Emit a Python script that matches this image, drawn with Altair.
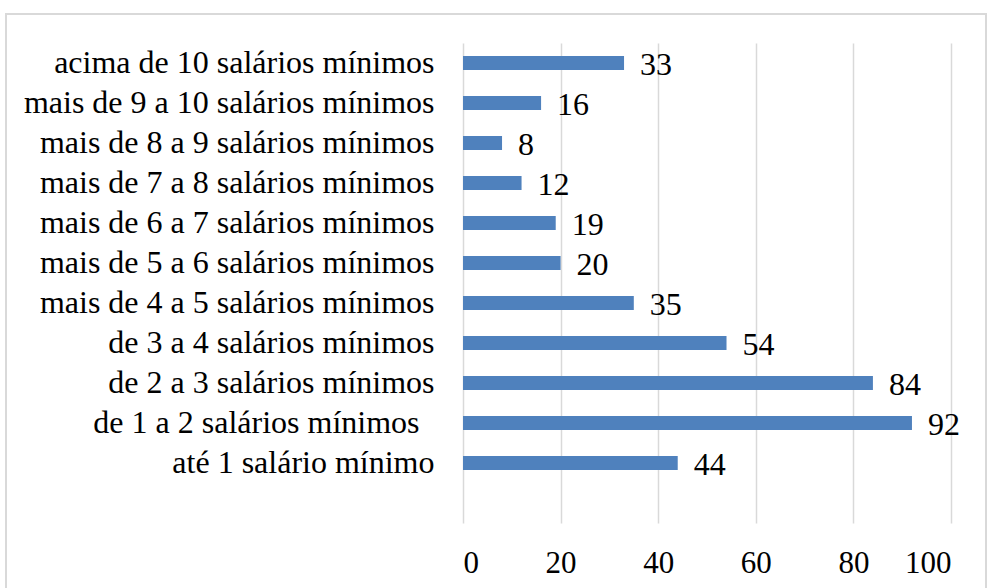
import altair as alt
import pandas as pd

categories = [
    "acima de 10 salários mínimos",
    "mais de 9 a 10 salários mínimos",
    "mais de 8 a 9 salários mínimos",
    "mais de 7 a 8 salários mínimos",
    "mais de 6 a 7 salários mínimos",
    "mais de 5 a 6 salários mínimos",
    "mais de 4 a 5 salários mínimos",
    "de 3 a 4 salários mínimos",
    "de 2 a 3 salários mínimos",
    "de 1 a 2 salários mínimos ",
    "até 1 salário mínimo",
]
values = [33, 16, 8, 12, 19, 20, 35, 54, 84, 92, 44]
x_ticks = [0, 20, 40, 60, 80, 100]

FONT = "Liberation Serif"
BLUE = "#4f81bd"
GRID = "#d9d9d9"

df = pd.DataFrame({"cat": categories, "value": values})
domain = categories + [""]

y_enc = alt.Y(
    "cat:N",
    sort=domain,
    scale=alt.Scale(domain=domain, paddingInner=0, paddingOuter=0),
    axis=alt.Axis(
        title=None, ticks=False, domain=False, labelFont=FONT, labelFontSize=32,
        labelColor="black", labelLimit=0, labelBaseline="middle",
        labelPadding={
            "condition": {"test": "slice(datum.value, 0, 8) == 'de 1 a 2'", "value": 44},
            "value": 29,
        },
    ),
)
x_enc = alt.X(
    "value:Q",
    scale=alt.Scale(domain=[0, 100], nice=False),
    axis=alt.Axis(
        title=None, values=x_ticks, ticks=False, domain=False, grid=True,
        gridColor=GRID, gridWidth=1.5, labelFont=FONT, labelFontSize=31,
        labelColor="black", labelPadding=49, labelBaseline="alphabetic",
    ),
)

base = alt.Chart(df)
bars = base.mark_bar(size=14, color=BLUE).encode(x=x_enc, y=y_enc)
labels = base.mark_text(
    align="left", baseline="middle", dx=16, dy=2, font=FONT, fontSize=32, color="black"
).encode(x="value:Q", y=alt.Y("cat:N", sort=domain), text="value:Q")

frame = alt.Chart(pd.DataFrame({"f": [0]})).mark_rect(
    fill="white", fillOpacity=0, stroke=GRID, strokeWidth=2
).encode(
    x=alt.value(-457), x2=alt.value(523), y=alt.value(-29), y2=alt.value(560)
)

chart = alt.layer(bars, labels, frame).properties(
    width=488,
    height=480,
    padding={"left": 463, "top": 43, "right": 40, "bottom": 65},
    autosize="none",
    background="white",
).configure_view(stroke=None)

chart.save("out.html", embed_options={"renderer": "svg", "actions": False})
